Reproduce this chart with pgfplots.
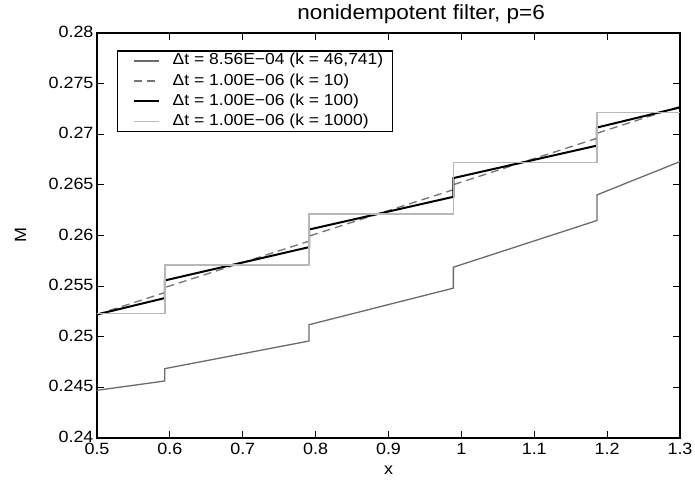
\documentclass[border=0pt]{standalone}
\usepackage{fontspec}
\setmainfont{Liberation Sans}[FakeStretch=1.1]
\usepackage{pgfplots}
\pgfplotsset{compat=1.18}

\definecolor{dgray}{gray}{0.42}
\definecolor{mgray}{gray}{0.45}
\definecolor{lgray}{gray}{0.72}

\begin{document}
\begin{tikzpicture}
\begin{axis}[
    scale only axis,
    width=583pt, height=405pt,
    xmin=0.5, xmax=1.3, ymin=0.24, ymax=0.28,
    xtick={0.5,0.6,0.7,0.8,0.9,1,1.1,1.2,1.3},
    ytick={0.24,0.245,0.25,0.255,0.26,0.265,0.27,0.275,0.28},
    scaled x ticks=false, scaled y ticks=false,
    /pgf/number format/fixed,
    /pgf/number format/precision=3,
    /pgf/number format/assume math mode=true,
    tick label style={font=\fontsize{16.3}{19}\selectfont},
    xticklabel style={yshift=-2pt},
    yticklabel style={yshift=1pt},
    major tick length=7pt,
    tick style={black, line width=1pt},
    axis line style={line width=1.6pt},
    xlabel={x}, ylabel={M},
    label style={font=\fontsize{16.3}{19}\selectfont},
    xlabel style={at={(axis description cs:0.5,-0.08)}, anchor=center},
    ylabel style={at={(axis description cs:-0.131,0.5)}, anchor=center},
    title={nonidempotent filter, p=6},
    title style={font=\fontsize{20.5}{24}\selectfont, at={(axis description cs:0.556,1)},
        anchor=base, yshift=8pt, inner sep=0pt},
    legend cell align=left,
    legend style={at={(0.0343,0.958)}, anchor=north west, draw=black, line width=1.5pt,
        font=\fontsize{15.9}{18}\selectfont, inner xsep=9pt, inner ysep=0pt,
        nodes={inner xsep=0pt, inner ysep=3.1pt, text height=11pt, text depth=3pt}},
]
\addlegendimage{legend image code/.code={\path[draw=none] (-7pt,0pt) -- (39pt,0pt);
  \draw[dgray, line width=1.3pt, solid] (0pt,0pt) -- (25pt,0pt);}}
\addlegendimage{legend image code/.code={\path[draw=none] (-7pt,0pt) -- (39pt,0pt);
  \draw[mgray, line width=1.3pt, dash pattern=on 8pt off 5pt] (0pt,0pt) -- (25pt,0pt);}}
\addlegendimage{legend image code/.code={\path[draw=none] (-7pt,0pt) -- (39pt,0pt);
  \draw[black, line width=2pt, solid] (0pt,0pt) -- (25pt,0pt);}}
\addlegendimage{legend image code/.code={\path[draw=none] (-7pt,0pt) -- (39pt,0pt);
  \draw[lgray, line width=1.5pt, solid] (0pt,0pt) -- (25pt,0pt);}}
\addplot[dgray, line width=1.3pt, forget plot] coordinates {
  (0.5,0.24471) (0.593,0.24563) (0.593,0.24685) (0.791,0.24958) (0.791,0.25119)
  (0.989,0.2548) (0.989,0.25687) (1.186,0.26148) (1.186,0.26401) (1.3,0.2673)
};
\addplot[mgray, line width=1.3pt, dash pattern=on 8pt off 5pt, forget plot] coordinates {
  (0.5,0.2522) (0.593,0.25436) (0.593,0.25486) (0.791,0.25944) (0.791,0.25994)
  (0.989,0.26452) (0.989,0.26502) (1.186,0.2696) (1.186,0.2701) (1.3,0.27274)
};
\addplot[black, line width=2pt, forget plot] coordinates {
  (0.5,0.2522) (0.593,0.25382) (0.593,0.25556) (0.791,0.25885) (0.791,0.26059)
  (0.989,0.26382) (0.989,0.26567) (1.186,0.26888) (1.186,0.27066) (1.3,0.27265)
};
\addplot[lgray, line width=1.5pt, forget plot] coordinates {
  (0.5,0.25228) (0.593,0.25228) (0.593,0.25711) (0.791,0.25711) (0.791,0.26214)
  (0.989,0.26214) (0.989,0.2672) (1.186,0.2672) (1.186,0.27216) (1.3,0.27216)
};
\legend{Δt = 8.56E−04 (k = 46{,}741), Δt = 1.00E−06 (k = 10), Δt = 1.00E−06 (k = 100), Δt = 1.00E−06 (k = 1000)}
\end{axis}
\pgfresetboundingbox
\path (-97pt,-45pt) rectangle (598pt,438pt);
\end{tikzpicture}
\end{document}
